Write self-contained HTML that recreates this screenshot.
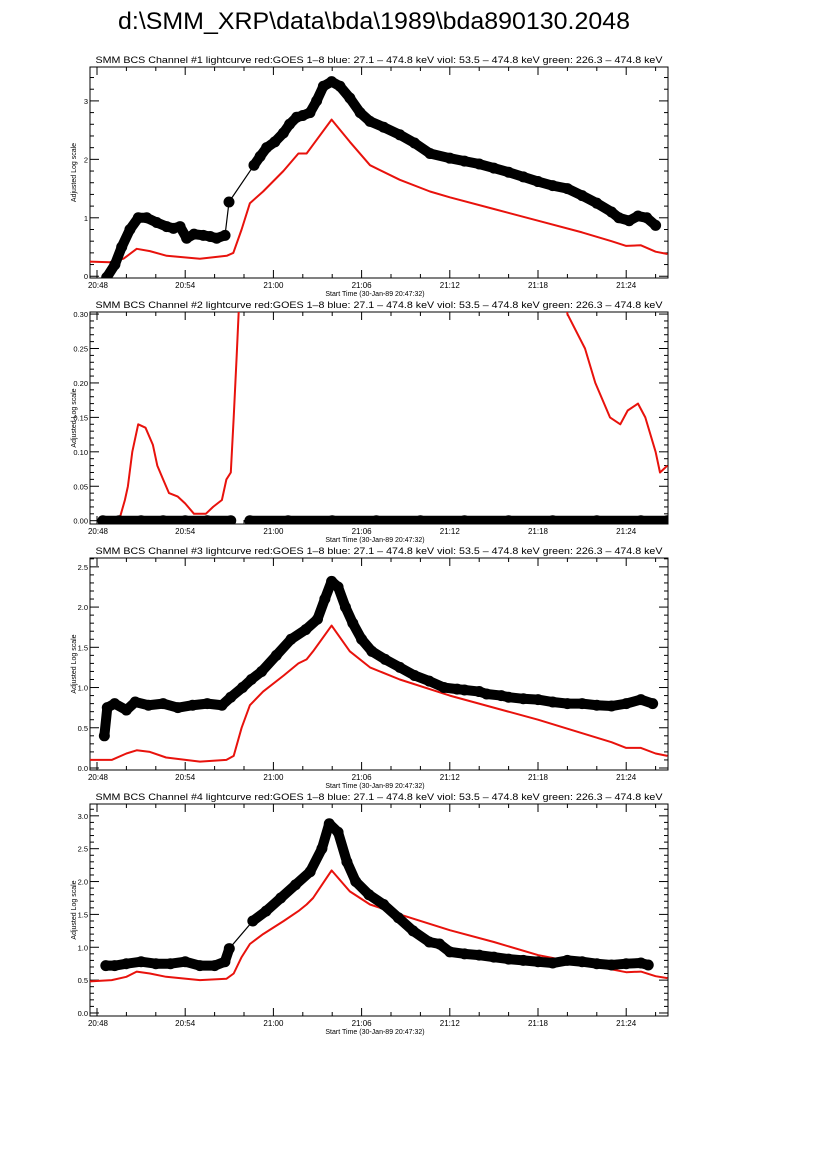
<!DOCTYPE html>
<html><head><meta charset="utf-8"><style>
html,body{margin:0;padding:0;background:#fff;}
svg{display:block;font-family:"Liberation Sans",sans-serif;}
</style></head><body>
<svg id="chart" width="826" height="1169" viewBox="0 0 826 1169" xmlns="http://www.w3.org/2000/svg">
<text x="374" y="29" font-size="24" text-anchor="middle" textLength="512" lengthAdjust="spacingAndGlyphs">d:\SMM_XRP\data\bda\1989\bda890130.2048</text>
</svg>
<script>
// time = minutes since 20:48
const tickLabels = ["20:48","20:54","21:00","21:06","21:12","21:18","21:24"];
const black1T = [0.66,1.22,1.68,2.24,2.81,3.38,4.06,4.74,5.2,5.65,6.1,6.6,7.23,7.7,8.14,8.71,8.98,10.68,11.1,11.54,12.1,12.68,13.1,13.58,14.0,14.49,14.94,15.4,15.96,16.53,17.2,17.9,18.57,19.5,20.6,21.6,22.65,24,25,26,27,28,29,30,31,32,33,34,35,35.5,36.2,36.8,37.4,38];
const black1V = [-0.02,0.2,0.5,0.8,1.0,1.0,0.92,0.85,0.82,0.85,0.65,0.72,0.7,0.68,0.65,0.7,1.27,1.9,2.05,2.2,2.3,2.45,2.6,2.72,2.75,2.8,3.0,3.25,3.33,3.25,3.05,2.8,2.65,2.55,2.42,2.28,2.1,2.02,1.97,1.92,1.85,1.78,1.7,1.62,1.55,1.5,1.38,1.25,1.1,1.0,0.95,1.03,1.0,0.87];
const red1T = [-0.48,0.88,1.8,2.7,3.6,4.74,7.0,8.82,9.27,9.84,10.4,11.3,12.68,13.7,14.26,14.7,15.96,17.2,18.57,20.6,22.65,24,27,30,33,35,36,37,38,38.8];
const red1V = [0.25,0.24,0.3,0.47,0.43,0.35,0.3,0.35,0.4,0.8,1.25,1.45,1.8,2.1,2.1,2.25,2.68,2.3,1.9,1.65,1.45,1.35,1.15,0.95,0.75,0.6,0.52,0.53,0.42,0.38];
const black2T = [0.4,1.5,3,4.5,6,7.5,9.1,10.4,13,16,19,22,25,28,31,34,37,38.8];
const black2V = [0,0,0,0,0,0,0,0,0,0,0,0,0,0,0,0,0,0];
const red2T = [-0.48,1.0,1.5,1.9,2.1,2.4,2.8,3.3,3.8,4.1,4.5,4.9,5.5,6.0,6.6,7.4,7.9,8.5,8.8,9.1,9.3,9.5,9.65,10.5,31.0,32.0,33.2,33.9,34.9,35.6,36.1,36.8,37.3,38.0,38.3,38.8];
const red2V = [-0.01,-0.01,0.0,0.03,0.05,0.1,0.14,0.135,0.11,0.08,0.06,0.04,0.035,0.025,0.01,0.01,0.02,0.03,0.06,0.07,0.15,0.24,0.31,0.6,0.6,0.30,0.25,0.2,0.15,0.14,0.16,0.17,0.15,0.1,0.07,0.08];
const black3T = [0.5,0.7,1.2,2,2.6,3.5,4.5,5.5,6.5,7.5,8.5,9.1,9.9,10.5,11.2,12.2,13.2,14.2,15.0,15.5,15.96,16.4,16.9,17.4,18.0,18.7,19.6,20.6,21.6,22.6,23.6,24.5,25,26,26.5,27.5,28,29,30,31,32,33,34,35,36,37,37.8];
const black3V = [0.4,0.75,0.8,0.72,0.82,0.78,0.8,0.75,0.78,0.8,0.78,0.88,1.0,1.1,1.2,1.4,1.6,1.72,1.85,2.1,2.32,2.25,2.0,1.8,1.6,1.45,1.35,1.25,1.15,1.08,1.0,0.98,0.97,0.95,0.92,0.9,0.88,0.86,0.85,0.82,0.8,0.8,0.78,0.77,0.8,0.85,0.8];
const red3T = [-0.48,1,2,2.7,3.6,4.7,7,8.8,9.3,9.84,10.4,11.3,12.7,13.7,14.26,14.7,15.96,17.2,18.57,20.6,24,30,35,36,37,38,38.8];
const red3V = [0.1,0.1,0.18,0.22,0.2,0.13,0.08,0.1,0.15,0.5,0.78,0.95,1.15,1.3,1.35,1.45,1.77,1.45,1.25,1.1,0.9,0.6,0.32,0.25,0.25,0.18,0.15];
const black4T = [0.6,1.2,2.0,3,4,5,6,7,8,8.7,9.0,10.6,11.5,12.5,13.5,14.5,15.3,15.8,16.4,17.0,17.6,18.5,19.5,20.5,21.5,22.6,23.3,24,25,26,27,28,29,30,31,32,33,34,35,36,37,37.5];
const black4V = [0.72,0.72,0.75,0.78,0.75,0.75,0.78,0.72,0.72,0.78,0.98,1.4,1.55,1.75,1.95,2.15,2.5,2.88,2.75,2.3,2.0,1.8,1.65,1.45,1.25,1.08,1.05,0.93,0.9,0.88,0.85,0.82,0.8,0.78,0.76,0.8,0.78,0.75,0.73,0.75,0.76,0.73];
const red4T = [-0.48,1,2,2.7,3.6,4.7,7,8.8,9.3,9.84,10.4,11.3,12.7,13.7,14.26,14.7,15.96,17.2,18.57,20.6,24,27,30,33,36,37,38,38.8];
const red4V = [0.48,0.5,0.55,0.63,0.6,0.55,0.5,0.52,0.6,0.85,1.05,1.2,1.4,1.55,1.65,1.75,2.17,1.85,1.65,1.5,1.26,1.08,0.88,0.75,0.62,0.63,0.56,0.53];
// indices i where segment i -> i+1 is a thin connector (data gap)
const gaps1 = [15,16];
const gaps2 = [6];
const gaps3 = [];
const gaps4 = [10];

const panels = [
 {n:1, top:67, bot:278, ymin:-0.03, ymax:3.58, ticks:[0,1,2,3], dec:0, minor:0.2, bT:black1T, bV:black1V, rT:red1T, rV:red1V, gaps:gaps1, band:false},
 {n:2, top:312, bot:524, ymin:-0.0048, ymax:0.303, ticks:[0,0.05,0.1,0.15,0.2,0.25,0.3], dec:2, minor:0.01, bT:black2T, bV:black2V, rT:red2T, rV:red2V, gaps:gaps2, band:true},
 {n:3, top:558, bot:770, ymin:-0.025, ymax:2.61, ticks:[0,0.5,1,1.5,2,2.5], dec:1, minor:0.1, bT:black3T, bV:black3V, rT:red3T, rV:red3V, gaps:gaps3, band:false},
 {n:4, top:804, bot:1016, ymin:-0.046, ymax:3.18, ticks:[0,0.5,1,1.5,2,2.5,3], dec:1, minor:0.1, bT:black4T, bV:black4V, rT:red4T, rV:red4V, gaps:gaps4, band:false}
];
const L=90, R=668;
const xs = t => 97 + t*14.7;
const svg = document.getElementById('chart');
const NS = 'http://www.w3.org/2000/svg';
function mk(tag, attrs, parent){ const e=document.createElementNS(NS,tag); for(const k in attrs) e.setAttribute(k,attrs[k]); (parent||svg).appendChild(e); return e; }

panels.forEach(p=>{
  const ys = v => p.bot - (v - p.ymin)/(p.ymax-p.ymin)*(p.bot-p.top);
  const g = mk('g',{});
  
  
  const cid='clip'+p.n;
  const cp = mk('clipPath',{id:cid},g); mk('rect',{x:L,y:p.top,width:R-L,height:p.bot-p.top},cp);
  const title = mk('text',{x:379,y:p.top-4,'font-size':9,'text-anchor':'middle',textLength:567,lengthAdjust:'spacingAndGlyphs'},g);
  title.textContent='SMM BCS Channel #'+p.n+' lightcurve  red:GOES 1\u20138  blue: 27.1 \u2013 474.8 keV  viol: 53.5 \u2013 474.8 keV  green: 226.3 \u2013 474.8 keV';
  
  
  const fr = mk('rect',{x:L,y:p.top,width:R-L,height:p.bot-p.top,fill:'none',stroke:'#000','stroke-width':1},g);
  
  
  for(let m=0; m<=38.8; m+=2){
    const x=xs(m); const major = (Math.round(m)%6===0);
    const len = major?8:4;
    mk('line',{x1:x,x2:x,y1:p.bot,y2:p.bot-len,stroke:'#000'},g);
    mk('line',{x1:x,x2:x,y1:p.top,y2:p.top+len,stroke:'#000'},g);
  }
  tickLabels.forEach((lab,i)=>{
    const x = i===0 ? 98 : xs(i*6);
    const t=mk('text',{x:x,y:p.bot+10,'font-size':8,'text-anchor':'middle'},g); t.textContent=lab;
    
    
  });
  const xt = mk('text',{x:375,y:p.bot+18,'font-size':7,'text-anchor':'middle'},g);
  xt.textContent='Start Time (30-Jan-89 20:47:32)';
  
  
  const nMin = Math.round((p.ticks[p.ticks.length-1]-0)/p.minor);
  for(let k=0;k<=nMin+2;k++){
    const v=k*p.minor; if(v>p.ymax) break;
    const y=ys(v); const major = p.ticks.some(t=>Math.abs(t-v)<1e-9);
    const len = major?9:4;
    mk('line',{x1:L,x2:L+len,y1:y,y2:y,stroke:'#000'},g);
    mk('line',{x1:R,x2:R-len,y1:y,y2:y,stroke:'#000'},g);
  }
  p.ticks.forEach(v=>{
    const t=mk('text',{x:L-2,y:ys(v)+3,'font-size':7.5,'text-anchor':'end'},g); t.textContent=v.toFixed(p.dec);
    
    
  });
  const yc=(p.top+p.bot)/2;
  const yt=mk('text',{x:0,y:0,'font-size':7,'text-anchor':'middle',transform:`translate(${L-14},${yc}) rotate(-90)`},g);
  yt.textContent='Adjusted Log scale';
  
  
  const rpts = p.rT.map((t,i)=>xs(t).toFixed(1)+','+ys(p.rV[i]).toFixed(1)).join(' ');
  const rl = mk('polyline',{points:rpts,fill:'none',stroke:'#e8120c','stroke-width':2,'stroke-linejoin':'round','clip-path':`url(#${cid})`},g);
  
  
  const bg = mk('g',{'clip-path':`url(#${cid})`},g);
  
  
  const thick = p.band ? 10 : 10;
  for(let i=0;i<p.bT.length-1;i++){
    const thin = p.gaps.includes(i);
    if(thin && p.band) continue;
    mk('line',{x1:xs(p.bT[i]),y1:ys(p.bV[i]),x2:xs(p.bT[i+1]),y2:ys(p.bV[i+1]),stroke:'#000','stroke-width':thin?1.2:thick,'stroke-linecap':'round'},bg);
  }
  p.bT.forEach((t,i)=>{
    const c=mk('circle',{cx:xs(t),cy:ys(p.bV[i]),r:5.5,fill:'#000'},bg);
    
    
  });
});
</script>
</body></html>
